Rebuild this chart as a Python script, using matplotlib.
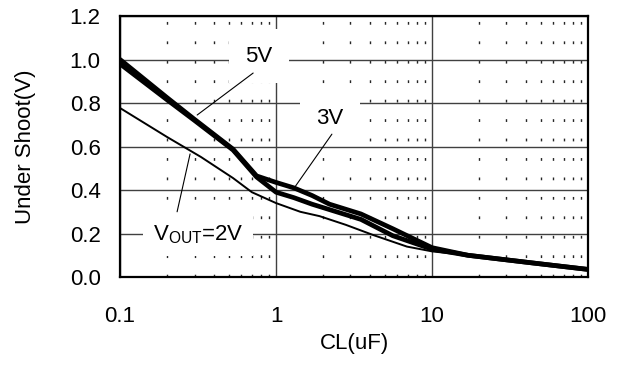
#!/usr/bin/env python3
import matplotlib
matplotlib.use('Agg')
import matplotlib.pyplot as plt
from matplotlib.ticker import FixedLocator, LogLocator, NullFormatter

plt.rcParams['font.family'] = ['Liberation Sans', 'DejaVu Sans']
plt.rcParams['mathtext.fontset'] = 'custom'
plt.rcParams['mathtext.rm'] = 'Liberation Sans'

# CL (uF) sample points
CL_THICK = [0.1, 0.2, 0.3, 0.53, 0.75, 1.0, 1.3, 1.7, 2.2, 3.5, 5.6, 10, 17, 45, 100]
V5 = [0.98, 0.815, 0.72, 0.584, 0.46, 0.39, 0.365, 0.335, 0.31, 0.265, 0.19,
      0.128, 0.10, 0.064, 0.035]
V3 = [1.0, 0.825, 0.725, 0.588, 0.465, 0.435, 0.41, 0.375, 0.335, 0.29, 0.222,
      0.135, 0.10, 0.064, 0.035]
CL_THIN = [0.1, 0.2, 0.33, 0.53, 0.7, 1.0, 1.43, 1.9, 2.8, 4.2, 6.9, 10, 17, 45, 100]
V2 = [0.777, 0.644, 0.552, 0.455, 0.39, 0.34, 0.30, 0.28, 0.24, 0.193, 0.14,
      0.118, 0.10, 0.064, 0.035]

X_TICKS = [0.1, 1, 10, 100]
X_LABELS = ['0.1', '1', '10', '100']
Y_TICKS = [0.0, 0.2, 0.4, 0.6, 0.8, 1.0, 1.2]


def main():
    fig = plt.figure(figsize=(6.19, 3.65), dpi=100)
    ax = fig.add_axes([0.194, 0.241, 0.756, 0.715])
    ax.set_xscale('log')
    ax.set_xlim(0.1, 100)
    ax.set_ylim(0, 1.2)

    ax.xaxis.set_major_locator(FixedLocator(X_TICKS))
    ax.set_xticklabels(X_LABELS)
    ax.xaxis.set_minor_locator(LogLocator(base=10, subs=range(2, 10)))
    ax.xaxis.set_minor_formatter(NullFormatter())
    ax.set_yticks(Y_TICKS)
    ax.set_yticklabels(['%.1f' % v for v in Y_TICKS])
    ax.tick_params(which='both', length=0, labelsize=16)
    ax.tick_params(axis='x', pad=21)
    ax.tick_params(axis='y', pad=14)

    ax.set_axisbelow(True)
    ax.grid(True, axis='y', which='major', color='0.25', lw=1.0)
    ax.grid(True, axis='x', which='major', color='0.25', lw=1.0)
    ax.grid(True, axis='x', which='minor', color='0.15', lw=1.0,
            linestyle=(0, (2.0, 12.0)))
    for s in ax.spines.values():
        s.set_linewidth(1.6)
        s.set_color('black')

    ax.plot(CL_THIN, V2, color='black', lw=1.4, zorder=4)
    ax.plot(CL_THICK, V3, color='black', lw=3.4, zorder=4,
            solid_capstyle='round', solid_joinstyle='round')
    ax.plot(CL_THICK, V5, color='black', lw=3.4, zorder=4,
            solid_capstyle='round', solid_joinstyle='round')

    box = dict(boxstyle='square,pad=0.75', fc='white', ec='none')
    ax.text(0.778, 1.016, '5V', fontsize=16, ha='center', va='center',
            bbox=box, zorder=3)
    ax.text(2.22, 0.731, '3V', fontsize=16, ha='center', va='center',
            bbox=box, zorder=3)
    ax.text(0.316, 0.193, r'V$_{\mathrm{OUT}}$=2V', fontsize=16,
            ha='center', va='center',
            bbox=dict(boxstyle='square,pad=0.45', fc='white', ec='none'),
            zorder=3)

    leader = dict(arrowstyle='-', lw=0.8, color='black',
                  shrinkA=0, shrinkB=0)
    ax.annotate('', xy=(0.312, 0.745), xytext=(0.713, 0.938),
                arrowprops=leader, zorder=5)
    ax.annotate('', xy=(1.32, 0.414), xytext=(2.28, 0.657),
                arrowprops=leader, zorder=5)
    ax.annotate('', xy=(0.281, 0.566), xytext=(0.232, 0.30),
                arrowprops=leader, zorder=5)

    ax.set_xlabel('CL(uF)', fontsize=16, labelpad=4)
    ax.set_ylabel('Under Shoot(V)', fontsize=16, labelpad=24)

    fig.savefig('out.png', dpi=100)


if __name__ == '__main__':
    main()
